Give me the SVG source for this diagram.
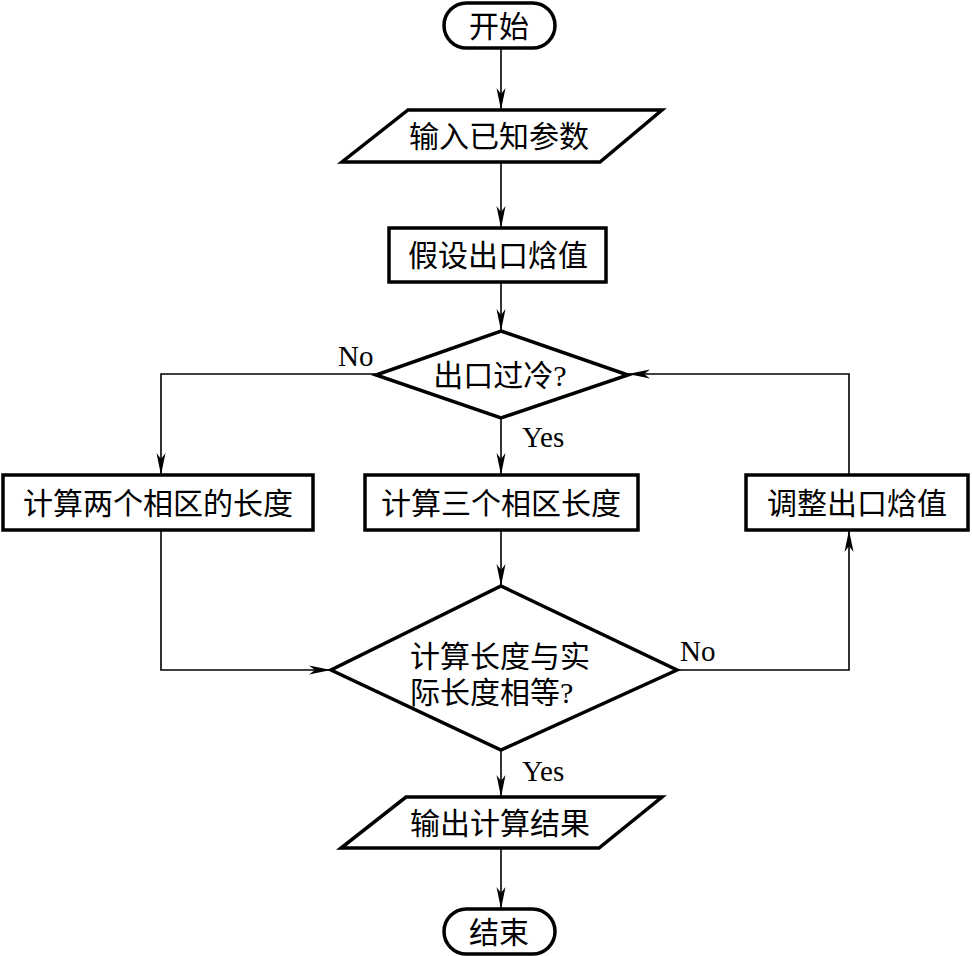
<svg xmlns="http://www.w3.org/2000/svg" width="972" height="956" viewBox="0 0 972 956">
<style>
.s{fill:#fff;stroke:#000;stroke-width:3.5;stroke-linejoin:miter}
.t{font-family:"Liberation Serif","Noto Sans CJK SC",serif;font-size:30px;fill:#000}
.c{text-anchor:middle;dominant-baseline:central}
.l{font-family:"Liberation Serif",serif;font-size:29px;fill:#000}
.e{fill:none;stroke:#000;stroke-width:1.6}
</style>
<defs>
<marker id="a" markerUnits="userSpaceOnUse" viewBox="0 0 22 10" refX="22" refY="5" markerWidth="22" markerHeight="10" orient="auto">
<path d="M0,0.5 L22,5 L0,9.5 L6,5 Z" fill="#000"/>
</marker>
</defs>
<rect width="972" height="956" fill="#fff"/>
<g id="connectors">
<path class="e" d="M501,48 V110" marker-end="url(#a)"/>
<path class="e" d="M501,162 V228" marker-end="url(#a)"/>
<path class="e" d="M501,282 V331" marker-end="url(#a)"/>
<path class="e" d="M376,374 H161 V475" marker-end="url(#a)"/>
<path class="e" d="M501,418 V475" marker-end="url(#a)"/>
<path class="e" d="M501,530 V586" marker-end="url(#a)"/>
<path class="e" d="M161,530 V670 H331" marker-end="url(#a)"/>
<path class="e" d="M677,670 H849 V530" marker-end="url(#a)"/>
<path class="e" d="M849,475 V374 H628" marker-end="url(#a)"/>
<path class="e" d="M501,750 V797" marker-end="url(#a)"/>
<path class="e" d="M501,848 V909" marker-end="url(#a)"/>
<text class="l" x="338" y="366">No</text>
<text class="l" x="522" y="447">Yes</text>
<text class="l" x="680" y="661">No</text>
<text class="l" x="522" y="781">Yes</text>
</g>
<g id="start">
<rect class="s" x="444" y="3" width="111" height="45" rx="22.5"/>
<text class="t c" x="499" y="26">开始</text>
</g>
<g id="input">
<polygon class="s" points="408,110 662,110 600,162 342,162"/>
<text class="t c" x="499" y="136">输入已知参数</text>
</g>
<g id="assume">
<rect class="s" x="389" y="228" width="217" height="54"/>
<text class="t c" x="498" y="255">假设出口焓值</text>
</g>
<g id="subcool">
<polygon class="s" points="501,331 628,375 501,418 376,375"/>
<text class="t c" x="500" y="375">出口过冷?</text>
</g>
<g id="two">
<rect class="s" x="3" y="475" width="310" height="55"/>
<text class="t c" x="158" y="503">计算两个相区的长度</text>
</g>
<g id="three">
<rect class="s" x="365" y="475" width="273" height="55"/>
<text class="t c" x="501" y="503">计算三个相区长度</text>
</g>
<g id="adjust">
<rect class="s" x="746" y="475" width="222" height="55"/>
<text class="t c" x="857" y="503">调整出口焓值</text>
</g>
<g id="equal">
<polygon class="s" points="501,586 677,670 501,750 331,670"/>
<text class="t" x="410" y="656" dominant-baseline="central">计算长度与实</text>
<text class="t" x="410" y="692" dominant-baseline="central">际长度相等?</text>
</g>
<g id="output">
<polygon class="s" points="406,797 662,797 599,848 341,848"/>
<text class="t c" x="500" y="823">输出计算结果</text>
</g>
<g id="end">
<rect class="s" x="444" y="909" width="111" height="45" rx="22.5"/>
<text class="t c" x="499" y="932">结束</text>
</g>
</svg>
